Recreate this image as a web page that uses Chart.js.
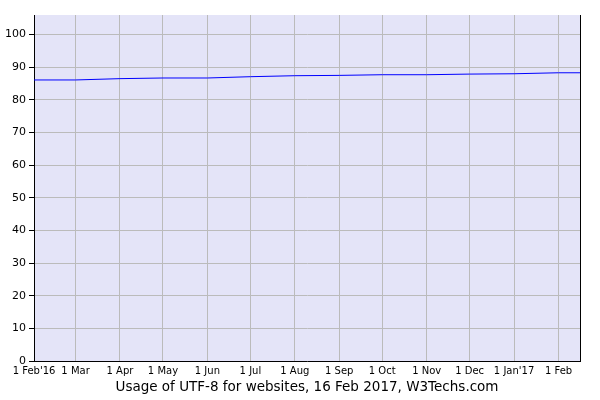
<!DOCTYPE html>
<html>
<head>
<meta charset="utf-8">
<script src="https://cdn.jsdelivr.net/npm/chart.js@4/dist/chart.umd.min.js"></script>
<style>
html, body { margin: 0; padding: 0; background: #fff; }
#wrap { width: 600px; height: 400px; }
</style>
</head>
<body>
<div id="wrap"><canvas id="utfChart" width="600" height="400"></canvas></div>
<script>
// days since 1 Feb 2016
var dayValues = [0, 29, 60, 90, 121, 151, 182, 213, 243, 274, 304, 335, 366, 381];
var usageValues = [86.1, 86.1, 86.5, 86.7, 86.7, 87.1, 87.4, 87.5, 87.7, 87.7, 87.9, 88.0, 88.3, 88.3];

var monthTicks = [0, 29, 60, 90, 121, 151, 182, 213, 243, 274, 304, 335, 366];
var monthLabels = ["1 Feb'16", "1 Mar", "1 Apr", "1 May", "1 Jun", "1 Jul", "1 Aug",
	"1 Sep", "1 Oct", "1 Nov", "1 Dec", "1 Jan'17", "1 Feb"];
var yTicks = [0, 10, 20, 30, 40, 50, 60, 70, 80, 90, 100];

var points = [];
for (var i = 0; i < dayValues.length; i++) {
	points.push({ x: dayValues[i], y: usageValues[i] });
}

// plot background + right border
var plotBack = {
	id: 'plotBack',
	beforeDraw: function(chart) {
		var a = chart.chartArea, c = chart.ctx;
		c.save();
		c.fillStyle = '#e4e4f8';
		c.fillRect(a.left, a.top, a.right - a.left, a.bottom - a.top);
		c.restore();
	},
	afterDraw: function(chart) {
		var a = chart.chartArea, c = chart.ctx;
		c.save();
		c.strokeStyle = '#000';
		c.lineWidth = 1;
		c.beginPath();
		c.moveTo(a.right + 0.5, a.top);
		c.lineTo(a.right + 0.5, a.bottom + 1);
		c.stroke();
		c.restore();
	}
};

Chart.defaults.font.family = 'DejaVu Sans';
Chart.defaults.font.size = 11;
Chart.defaults.color = '#000';

new Chart(document.getElementById('utfChart'), {
	type: 'line',
	data: {
		datasets: [{
			data: points,
			borderColor: '#0000ff',
			borderWidth: 1,
			pointRadius: 0,
			tension: 0,
			fill: false
		}]
	},
	options: {
		responsive: false,
		animation: false,
		layout: { padding: { top: 15, right: 20, left: 0, bottom: 0 } },
		plugins: { legend: { display: false }, tooltip: { enabled: false } },
		scales: {
			x: {
				type: 'linear',
				min: 0,
				max: 381,
				afterBuildTicks: function(axis) {
					axis.ticks = monthTicks.map(function(v) { return { value: v }; });
				},
				afterFit: function(axis) { axis.height = 39; },
				ticks: {
					autoSkip: false,
					maxRotation: 0,
					padding: 4,
					font: { size: 10 },
					callback: function(v) {
						var k = monthTicks.indexOf(v);
						return k >= 0 ? monthLabels[k] : '';
					}
				},
				grid: { color: '#bbbbbb', drawTicks: false },
				border: { color: '#000', width: 1 },
				title: {
					display: true,
					text: 'Usage of UTF-8 for websites, 16 Feb 2017, W3Techs.com',
					font: { size: 13.5 },
					padding: { top: 2, bottom: 4 }
				}
			},
			y: {
				min: 0,
				max: 106,
				afterBuildTicks: function(axis) {
					axis.ticks = yTicks.map(function(v) { return { value: v }; });
				},
				afterFit: function(axis) { axis.width = 34; },
				ticks: { padding: 3 },
				grid: { color: '#bbbbbb', tickLength: 5, tickColor: '#000' },
				border: { color: '#000', width: 1 }
			}
		}
	},
	plugins: [plotBack]
});
</script>
</body>
</html>
